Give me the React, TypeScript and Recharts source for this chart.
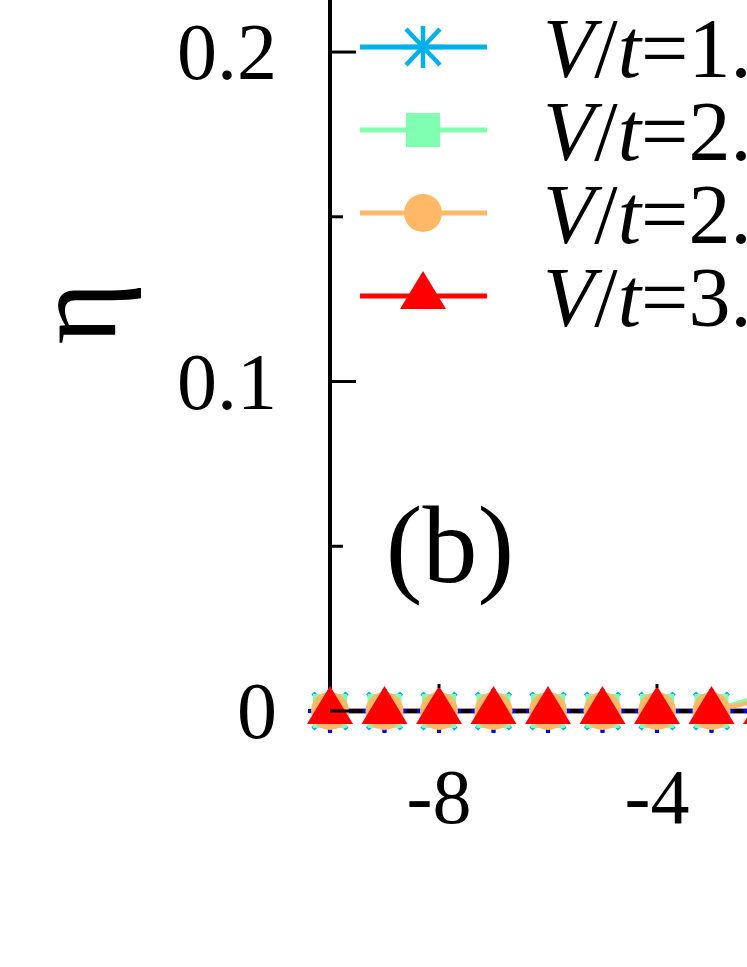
import { LineChart, Line, XAxis, YAxis } from "recharts";

// x positions (crop shows -10 .. about -2.3)
const xs = [-10, -9, -8, -7, -6, -5, -4, -3, -2];
// eta per series (all flat at 0 until the right edge)
const etaBlue = [0, 0, 0, 0, 0, 0, 0, 0, 0];
const etaV15 = [0, 0, 0, 0, 0, 0, 0, 0, 0];
const etaV20 = [0, 0, 0, 0, 0, 0, 0, 0, 0.005];
const etaV25 = [0, 0, 0, 0, 0, 0, 0, 0, 0.0036];
const etaV30 = [0, 0, 0, 0, 0, 0, 0, 0, 0];

const legendLabels = ["1.5", "2.0", "2.5", "3.0"];
const xTicks = [-8, -4];
const yTicks = [0, 0.05, 0.1, 0.15, 0.2];

const FONT = "'Liberation Serif', 'Times New Roman', serif";

const data = xs.map((x, i) => ({
  x,
  blue: etaBlue[i],
  v15: etaV15[i],
  v20: etaV20[i],
  v25: etaV25[i],
  v30: etaV30[i],
}));

type Kind = "star" | "plus" | "square" | "circle" | "triangle";

function Marker({ kind, cx, cy, color }: { kind: Kind; cx: number; cy: number; color: string }) {
  if (kind === "star") {
    return (
      <g stroke={color} strokeWidth={4.5}>
        <line x1={cx} y1={cy - 21} x2={cx} y2={cy + 21} />
        <line x1={cx - 21} y1={cy} x2={cx + 21} y2={cy} />
        <line x1={cx - 17} y1={cy - 18} x2={cx + 17} y2={cy + 18} />
        <line x1={cx - 17} y1={cy + 18} x2={cx + 17} y2={cy - 18} />
      </g>
    );
  }
  if (kind === "plus") {
    return (
      <g stroke={color} strokeWidth={4}>
        <line x1={cx} y1={cy - 22} x2={cx} y2={cy + 22} />
        <line x1={cx - 22} y1={cy} x2={cx + 22} y2={cy} />
      </g>
    );
  }
  if (kind === "square") return <rect x={cx - 17} y={cy - 17} width={34} height={34} fill={color} />;
  if (kind === "circle") return <circle cx={cx} cy={cy} r={19} fill={color} />;
  return (
    <polygon
      points={`${cx},${cy - 25} ${cx - 23},${cy + 13} ${cx + 23},${cy + 13}`}
      fill={color}
    />
  );
}

const series: { key: string; color: string; kind: Kind; label?: string }[] = [
  { key: "v15", color: "#00b0ea", kind: "star", label: legendLabels[0] },
  { key: "blue", color: "#0000ff", kind: "plus" },
  { key: "v20", color: "#80ffb0", kind: "square", label: legendLabels[1] },
  { key: "v25", color: "#ffb866", kind: "circle", label: legendLabels[2] },
  { key: "v30", color: "#ff0000", kind: "triangle", label: legendLabels[3] },
];

function XTick(props: any) {
  const { x, y, payload } = props;
  // the inward tick is mostly hidden by the markers; only its tip shows
  return (
    <g>
      <line x1={x} y1={y - 27} x2={x} y2={y - 23} stroke="#000" strokeWidth={3} />
      <text x={x} y={y + 112} textAnchor="middle" fontFamily={FONT} fontSize={78} fill="#000">
        {`${payload.value}`}
      </text>
    </g>
  );
}

function YTick(props: any) {
  const { x, y, payload } = props;
  const v: number = payload.value;
  const major = Math.round(v * 100) % 10 === 0;
  return (
    <g>
      <line x1={x} y1={y} x2={x + (major ? 26 : 13)} y2={y} stroke="#000" strokeWidth={3} />
      {major && (
        <text x={x - 53} y={y + 27} textAnchor="end" fontFamily={FONT} fontSize={80} fill="#000">
          {v === 0 ? "0" : v.toFixed(1)}
        </text>
      )}
    </g>
  );
}

export default function App() {
  const legendItems = series.filter((s) => s.label);
  return (
    <div
      style={{
        position: "fixed",
        left: 0,
        top: 0,
        width: 747,
        height: 967,
        overflow: "hidden",
        background: "#fff",
      }}
    >
      <LineChart width={800} height={967} data={data} margin={{ top: 0, right: 34, left: 0, bottom: 0 }}>
        <XAxis
          dataKey="x"
          type="number"
          domain={[-10, -2]}
          ticks={xTicks}
          interval={0}
          height={256}
          axisLine={{ stroke: "#000", strokeWidth: 4 }}
          tickLine={false}
          tickSize={0}
          tickMargin={0}
          tick={<XTick />}
        />
        <YAxis
          type="number"
          domain={[0, 0.2158]}
          ticks={yTicks}
          interval={0}
          width={330}
          axisLine={{ stroke: "#000", strokeWidth: 4 }}
          tickLine={false}
          tickSize={0}
          tickMargin={0}
          tick={<YTick />}
        />
        {series.map((s) => (
          <Line
            key={s.key}
            dataKey={s.key}
            stroke={s.color}
            strokeWidth={4.5}
            isAnimationActive={false}
            legendType="none"
            dot={(p: any) => (
              <Marker key={`${s.key}-${p.index}`} kind={s.kind} cx={p.cx} cy={p.cy} color={s.color} />
            )}
            activeDot={false}
          />
        ))}
      </LineChart>
      <svg
        width={747}
        height={967}
        style={{ position: "absolute", left: 0, top: 0, pointerEvents: "none" }}
      >
        {legendItems.map((s, i) => {
          const cy = 47 + i * 83;
          return (
            <g key={s.key}>
              <line x1={360} y1={cy} x2={487} y2={cy} stroke={s.color} strokeWidth={5} />
              <Marker kind={s.kind} cx={423} cy={cy} color={s.color} />
              <text x={543} y={cy + 30} fontFamily={FONT} fontSize={84} fill="#000">
                <tspan fontStyle="italic">V</tspan>
                <tspan>/</tspan>
                <tspan fontStyle="italic">t</tspan>
                <tspan>={s.label}</tspan>
              </text>
            </g>
          );
        })}
        <text
          x={115}
          y={313}
          transform="rotate(-90 115 313)"
          textAnchor="middle"
          fontFamily={FONT}
          fontSize={120}
          fill="#000"
        >
          η
        </text>
        <text x={450} y={582} textAnchor="middle" fontFamily={FONT} fontSize={110} fill="#000">
          (b)
        </text>
      </svg>
    </div>
  );
}
